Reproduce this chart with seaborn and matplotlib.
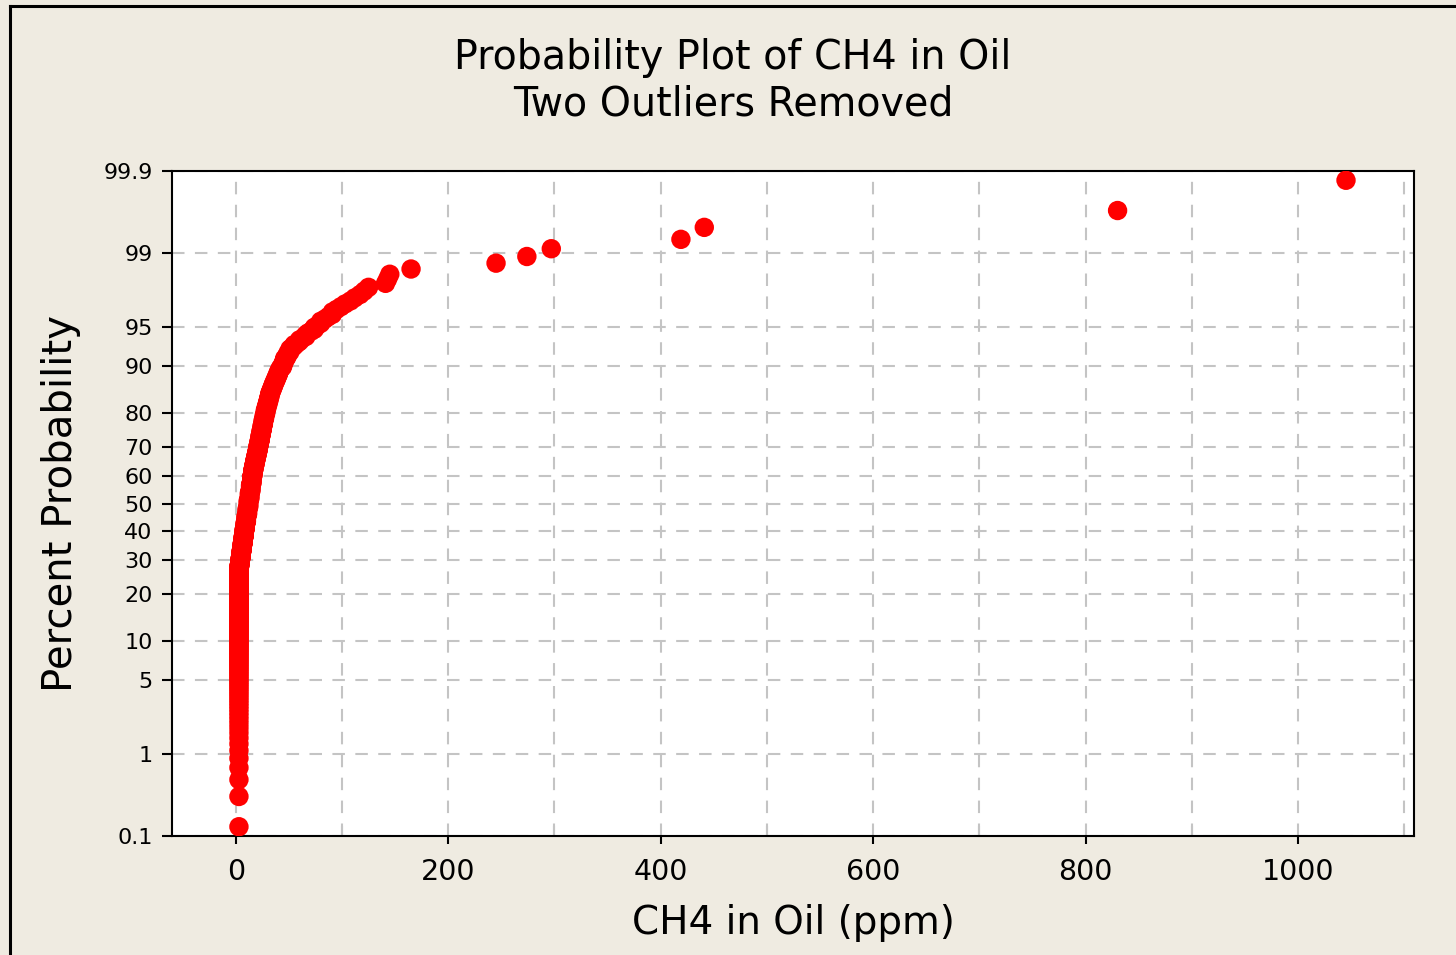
import math
import numpy as np
import pandas as pd
import matplotlib
matplotlib.use("Agg")
import matplotlib.pyplot as plt
from matplotlib.lines import Line2D
import seaborn as sns

# ---- data (CH4 in oil, ppm; value -> number of samples) ----
ch4_values = [3, 4, 5, 6, 7, 8, 9, 10, 11, 12, 13, 14, 15, 16, 17, 18, 19, 20,
              21, 22, 23, 24, 25, 26, 27, 28, 29, 30, 31, 32, 33, 34, 35, 36, 37,
              38, 39, 40, 41, 42, 44, 45, 46, 48, 49, 51, 53, 55, 58, 60, 63, 66,
              68, 71, 74, 77, 80, 84, 87, 91, 95, 99, 103, 108, 112, 117, 121, 125,
              141, 143, 145, 165, 245, 274, 297, 419, 441, 830, 1045]
ch4_counts = [148, 12, 13, 13, 13, 14, 13, 14, 14, 16, 15, 15, 15, 12, 9, 9, 8, 8,
              9, 8, 9, 8, 8, 8, 7, 7, 5, 5, 5, 5, 3, 3, 3, 3, 2,
              3, 2, 3, 2, 2, 3, 2, 3, 2, 2, 3, 1, 2, 1, 2, 1, 2,
              1, 1, 2, 1, 2, 1, 1, 2, 1, 1, 1, 1, 1, 1, 1, 1,
              1, 1, 1, 1, 1, 1, 1, 1, 1, 1, 1]

y_ticks = [0.1, 1, 5, 10, 20, 30, 40, 50, 60, 70, 80, 90, 95, 99, 99.9]
y_tick_labels = ["0.1", "1", "5", "10", "20", "30", "40", "50", "60", "70",
                 "80", "90", "95", "99", "99.9"]
x_ticks = [0, 200, 400, 600, 800, 1000]
x_tick_labels = ["0", "200", "400", "600", "800", "1000"]

title_text = "Probability Plot of CH4 in Oil\nTwo Outliers Removed"
x_label = "CH4 in Oil (ppm)"
y_label = "Percent Probability"

# ---- normal probability scale helpers ----
_a = [-3.969683028665376e+01, 2.209460984245205e+02, -2.759285104469687e+02,
      1.383577518672690e+02, -3.066479806614716e+01, 2.506628277459239e+00]
_b = [-5.447609879822406e+01, 1.615858368580409e+02, -1.556989798598866e+02,
      6.680131188771972e+01, -1.328068155288572e+01]
_c = [-7.784894002430293e-03, -3.223964580411365e-01, -2.400758277161838e+00,
      -2.549732539343734e+00, 4.374664141464968e+00, 2.938163982698783e+00]
_d = [7.784695709041462e-03, 3.224671290700398e-01, 2.445134137142996e+00,
      3.754408661907416e+00]


def _ppf(p):
    p = np.clip(np.asarray(p, dtype=float), 1e-12, 1 - 1e-12)
    q = np.minimum(p, 1 - p)
    r = np.sqrt(-2.0 * np.log(q))
    tail = (((((_c[0] * r + _c[1]) * r + _c[2]) * r + _c[3]) * r + _c[4]) * r + _c[5]) / \
           ((((_d[0] * r + _d[1]) * r + _d[2]) * r + _d[3]) * r + 1)
    u = q - 0.5
    t = u * u
    cen = (((((_a[0] * t + _a[1]) * t + _a[2]) * t + _a[3]) * t + _a[4]) * t + _a[5]) * u / \
          (((((_b[0] * t + _b[1]) * t + _b[2]) * t + _b[3]) * t + _b[4]) * t + 1)
    x = np.where(q < 0.02425, tail, cen)
    return np.where(p < 0.5, x, -x)


_erf = np.vectorize(math.erf, otypes=[float])


def fwd(pct):
    return _ppf(np.asarray(pct, dtype=float) / 100.0)


def inv(z):
    z = np.asarray(z, dtype=float)
    return 50.0 * (1.0 + _erf(z / math.sqrt(2.0)))


# ---- build the data table (median ranks, Benard) ----
vals = np.repeat(np.array(ch4_values, dtype=float), ch4_counts)
n = len(vals)
ranks = np.arange(1, n + 1)
pct = (ranks - 0.3) / (n + 0.4) * 100.0
df = pd.DataFrame({"CH4": vals, "Percent": pct})

# ---- figure ----
bg = "#EFEBE1"
W, H = 1456, 955
fig = plt.figure(figsize=(W / 100, H / 100), dpi=100, facecolor=bg)
ax = fig.add_axes([172 / W, 1 - 836 / H, (1414 - 172) / W, (836 - 171) / H])
ax.set_facecolor("white")

ax.set_yscale("function", functions=(fwd, inv))

sns.scatterplot(data=df, x="CH4", y="Percent", ax=ax, color="#FF0000",
                s=195, linewidth=0, edgecolor="none", legend=False, zorder=3)

ax.set_xlim(-60, 1109)
ax.set_ylim(0.1, 99.9)

ax.set_yticks(y_ticks)
ax.set_yticklabels(y_tick_labels)
ax.yaxis.set_minor_locator(matplotlib.ticker.NullLocator())
ax.set_xticks(x_ticks)
ax.set_xticklabels(x_tick_labels)
ax.set_xticks(np.arange(100, 1101, 200), minor=True)

grid_kw = dict(color="#C4C4C4", linewidth=1.5, linestyle=(0, (6, 5)))
ax.grid(True, axis="y", which="major", **grid_kw)
ax.grid(True, axis="x", which="both", **grid_kw)
ax.set_axisbelow(True)

ax.tick_params(axis="y", which="major", direction="out", length=7, width=1.5,
               color="black", labelsize=16, pad=7)
ax.tick_params(axis="x", which="major", direction="out", length=6, width=1.5,
               color="black", labelsize=20.5, pad=10)
ax.tick_params(axis="x", which="minor", direction="in", length=7, width=1.5,
               color="#C4C4C4")

for s in ax.spines.values():
    s.set_color("black")
    s.set_linewidth(1.5)

ax.set_xlabel(x_label, fontsize=28, labelpad=13)
ax.set_ylabel(y_label, fontsize=29, labelpad=16)

fig.text(733 / W, 1 - 81 / H, title_text, ha="center", va="center",
         fontsize=28.5, linespacing=1.2)

# outer frame (left and top edges visible in the reference)
fig.add_artist(Line2D([10 / W, 10 / W], [0, 1 - 6.5 / H], transform=fig.transFigure,
                      color="black", linewidth=2.2))
fig.add_artist(Line2D([10 / W, 1], [1 - 6.5 / H, 1 - 6.5 / H], transform=fig.transFigure,
                      color="black", linewidth=2.2))

fig.savefig("out.png", dpi=100, facecolor=bg)
